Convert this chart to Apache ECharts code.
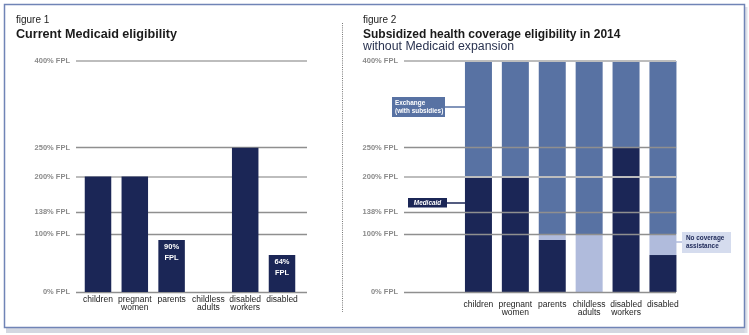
<!DOCTYPE html>
<html>
<head>
<meta charset="utf-8">
<script src="https://cdn.jsdelivr.net/npm/echarts@6/dist/echarts.min.js"></script>
<style>
html,body{margin:0;padding:0;background:#fff;}
#c{width:749px;height:335px;}
</style>
</head>
<body>
<div id="c"></div>
<script>
// ---- data ----
const categories = ['children', 'pregnant\nwomen', 'parents', 'childless\nadults', 'disabled\nworkers', 'disabled'];
const tickValues = [0, 100, 138, 200, 250, 400];
const currentMedicaid = [200, 200, 90, 0, 250, 64];
const currentBarLabels = ['', '', '90%\nFPL', '', '', '64%\nFPL'];
const medicaid2014 = [200, 200, 90, 0, 250, 64];
const noCoverage2014 = [0, 0, 10, 100, 0, 36];
const exchange2014 = [200, 200, 300, 300, 150, 300];

// ---- style ----
const NAVY = '#1b2656';
const BLUE = '#5872a3';
const LIGHT = '#b0bbdc';
const FONT = '"Liberation Sans", Arial, sans-serif';
const TOP = 61, H = 231;

function gridLineStyle(v) {
  if (v === 400 || v === 200) return { color: '#bdbdbd', width: 2, type: 'solid' };
  return { color: '#8f8f8f', width: 1.3, type: 'solid' };
}

const chart = echarts.init(document.getElementById('c'), null, { renderer: 'canvas' });

function yAxisLabels(gridIndex) {
  return {
    type: 'value', gridIndex, min: 0, max: 400,
    axisLine: { show: false }, axisTick: { show: false }, splitLine: { show: false },
    axisLabel: {
      customValues: tickValues, margin: 6,
      formatter: v => v + '% FPL',
      color: '#8a8a8a', fontFamily: FONT, fontSize: 7.5, fontWeight: 'bold'
    }
  };
}
function yAxisHidden(gridIndex) {
  return { type: 'value', gridIndex, min: 0, max: 400, show: false };
}
function xAxisHidden(gridIndex) {
  return { type: 'value', gridIndex, min: 0, max: 1, show: false };
}
function xAxisCat(gridIndex, margin) {
  return {
    type: 'category', gridIndex, data: categories,
    axisLine: { show: false }, axisTick: { show: false },
    axisLabel: { margin, color: '#222', fontFamily: FONT, fontSize: 8.5, lineHeight: 8.5, interval: 0 }
  };
}
function gridLines(idx, z) {
  return {
    type: 'line', xAxisIndex: idx, yAxisIndex: idx, data: [], silent: true, z: z,
    markLine: {
      z: z,
      symbol: 'none', silent: true, animation: false,
      label: { show: false },
      data: tickValues.map(v => ({ yAxis: v, lineStyle: gridLineStyle(v) }))
    }
  };
}

const option = {
  animation: false,
  backgroundColor: '#fff',
  grid: [
    { left: 76, width: 231, top: TOP, height: H },
    { left: 79.6, width: 220.8, top: TOP, height: H },
    { left: 404, width: 272, top: TOP, height: H },
    { left: 460, width: 221.4, top: TOP, height: H }
  ],
  xAxis: [xAxisHidden(0), xAxisCat(1, 3), xAxisHidden(2), xAxisCat(3, 8)],
  yAxis: [yAxisLabels(0), yAxisHidden(1), yAxisLabels(2), yAxisHidden(3)],
  series: [
    gridLines(0, 1),
    gridLines(2, 6),
    {
      name: 'Current Medicaid', type: 'bar', xAxisIndex: 1, yAxisIndex: 1, z: 3,
      barWidth: 26.5,
      data: currentMedicaid.map((v, i) => ({ value: v, label: { show: currentBarLabels[i] !== '', formatter: currentBarLabels[i] } })),
      itemStyle: { color: NAVY },
      label: { position: 'insideTop', distance: 1, color: '#fff', fontFamily: FONT, fontSize: 7.5, fontWeight: 'bold', lineHeight: 11, align: 'center' }
    },
    {
      name: 'Medicaid', type: 'bar', stack: 's', xAxisIndex: 3, yAxisIndex: 3, z: 3,
      barWidth: 27, data: medicaid2014, itemStyle: { color: NAVY }
    },
    {
      name: 'No coverage assistance', type: 'bar', stack: 's', xAxisIndex: 3, yAxisIndex: 3, z: 3,
      barWidth: 27, data: noCoverage2014, itemStyle: { color: LIGHT }
    },
    {
      name: 'Exchange (with subsidies)', type: 'bar', stack: 's', xAxisIndex: 3, yAxisIndex: 3, z: 3,
      barWidth: 27, data: exchange2014, itemStyle: { color: BLUE }
    }
  ],
  graphic: [
    // outer frame + shadow
    { type: 'rect', shape: { x: 6, y: 328, width: 741, height: 5 }, style: { fill: '#d3d7e1' }, z: 0 },
    { type: 'rect', shape: { x: 744.5, y: 7, width: 3, height: 326 }, style: { fill: '#dde0e8' }, z: 0 },
    { type: 'rect', shape: { x: 4.5, y: 4.5, width: 740, height: 323 }, style: { fill: '#fff', stroke: '#7084b6', lineWidth: 1.5 }, z: 0 },
    // divider
    { type: 'line', shape: { x1: 342.5, y1: 23, x2: 342.5, y2: 312 }, style: { stroke: '#777', lineWidth: 1, lineDash: [1, 1.2] }, z: 5 },
    // titles
    { type: 'text', x: 16, y: 15.5, style: { text: 'figure 1', fontFamily: FONT, fontSize: 10, fill: '#222' }, z: 5 },
    { type: 'text', x: 16, y: 28.5, style: { text: 'Current Medicaid eligibility', fontFamily: FONT, fontSize: 12.6, fontWeight: 'bold', fill: '#1a1a1a' }, z: 5 },
    { type: 'text', x: 363, y: 15.5, style: { text: 'figure 2', fontFamily: FONT, fontSize: 10, fill: '#222' }, z: 5 },
    { type: 'text', x: 363, y: 29, style: { text: 'Subsidized health coverage eligibility in 2014', fontFamily: FONT, fontSize: 12, fontWeight: 'bold', fill: '#1a1a1a' }, z: 5 },
    { type: 'text', x: 363, y: 41, style: { text: 'without Medicaid expansion', fontFamily: FONT, fontSize: 12.3, fill: '#2a3350' }, z: 5 },
    // annotation: Exchange
    { type: 'line', shape: { x1: 444, y1: 107, x2: 465, y2: 107 }, style: { stroke: BLUE, lineWidth: 1.5 }, z: 5 },
    { type: 'rect', shape: { x: 392, y: 97, width: 53, height: 20 }, style: { fill: BLUE }, z: 5 },
    { type: 'text', x: 395, y: 99, style: { text: 'Exchange\n(with subsidies)', fontFamily: FONT, fontSize: 6.4, fontWeight: 'bold', fill: '#fff', lineHeight: 8 }, z: 6 },
    // annotation: Medicaid
    { type: 'line', shape: { x1: 446, y1: 203, x2: 465, y2: 203 }, style: { stroke: NAVY, lineWidth: 1.5 }, z: 5 },
    { type: 'rect', shape: { x: 408, y: 198, width: 39, height: 9.5 }, style: { fill: NAVY }, z: 5 },
    { type: 'text', x: 427.5, y: 202.8, style: { text: 'Medicaid', fontFamily: FONT, fontSize: 6.4, fontWeight: 'bold', fontStyle: 'italic', fill: '#fff', align: 'center', verticalAlign: 'middle' }, z: 6 },
    // annotation: No coverage
    { type: 'line', shape: { x1: 676, y1: 242, x2: 683, y2: 242 }, style: { stroke: LIGHT, lineWidth: 1.5 }, z: 5 },
    { type: 'rect', shape: { x: 682, y: 232, width: 49, height: 21 }, style: { fill: '#d5dcee' }, z: 5 },
    { type: 'text', x: 686, y: 234.5, style: { text: 'No coverage\nassistance', fontFamily: FONT, fontSize: 6.4, fontWeight: 'bold', fill: NAVY, lineHeight: 7.5 }, z: 6 }
  ]
};
chart.setOption(option);
</script>
</body>
</html>
